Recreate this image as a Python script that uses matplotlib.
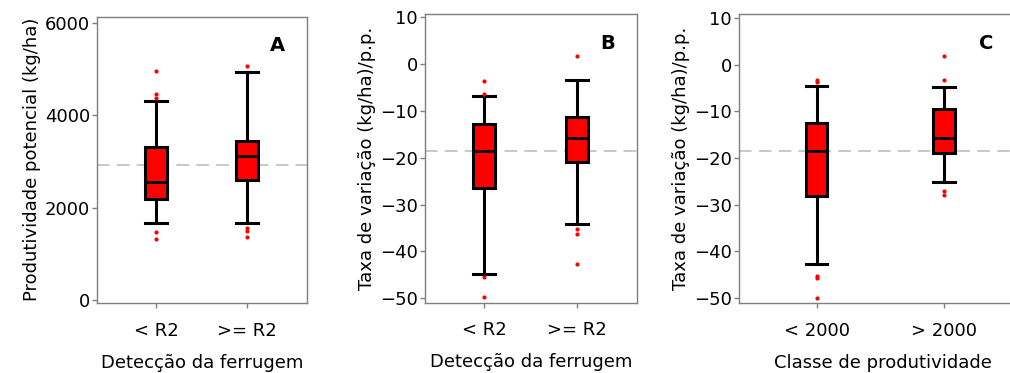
import numpy as np
import matplotlib
matplotlib.use("Agg")
import matplotlib.pyplot as plt

plt.rcParams['font.family'] = ['DejaVu Sans']

# panel A: produtividade potencial por deteccao da ferrugem
labels_a = ["< R2", ">= R2"]
med_a = [2560, 3117]
q1_a = [2180, 2597]
q3_a = [3305, 3434]
wlo_a = [1660, 1673]
whi_a = [4314, 4942]
fliers_a = [[4957, 4452, 4380, 1465, 1320], [5072, 1552, 1500, 1357]]
ref_a = 2915

# panel B: taxa de variacao por deteccao da ferrugem
labels_b = ["< R2", ">= R2"]
med_b = [-18.5, -15.8]
q1_b = [-26.5, -20.8]
q3_b = [-12.8, -11.2]
wlo_b = [-44.9, -34.2]
whi_b = [-6.8, -3.4]
fliers_b = [[-3.6, -6.4, -45.5, -49.8], [1.7, -35.3, -36.3, -42.7]]
ref_b = -18.5

# panel C: taxa de variacao por classe de produtividade
labels_c = ["< 2000", "> 2000"]
med_c = [-18.4, -15.8]
q1_c = [-28.2, -19.0]
q3_c = [-12.4, -9.5]
wlo_c = [-42.8, -25.1]
whi_c = [-4.5, -4.8]
fliers_c = [[-3.3, -3.7, -45.3, -45.8, -50.0], [1.9, -3.3, -27.0, -28.0]]
ref_c = -18.5

W, H = 1010, 373
fig = plt.figure(figsize=(W / 100, H / 100), dpi=100)

def px(l, r, t, b):
    return [l / W, 1 - b / H, (r - l) / W, (b - t) / H]

panels = [
    dict(rect=px(97, 307, 16.5, 303), xlim=(0.352, 2.66), ylim=(-65, 6134), yticks=[0, 2000, 4000, 6000],
         labels=labels_a, med=med_a, q1=q1_a, q3=q3_a, wlo=wlo_a, whi=whi_a, fl=fliers_a, ref=ref_a,
         ylabel="Produtividade potencial (kg/ha)", xlabel="Detecção da ferrugem", tag="A", width=0.24),
    dict(rect=px(425, 637, 14.3, 302.7), xlim=(0.358, 2.65), ylim=(-50.94, 10.64), yticks=range(-50, 11, 10),
         labels=labels_b, med=med_b, q1=q1_b, q3=q3_b, wlo=wlo_b, whi=whi_b, fl=fliers_b, ref=ref_b,
         ylabel="Taxa de variação (kg/ha)/p.p.", xlabel="Detecção da ferrugem", tag="B", width=0.24),
    # panel C runs past the right edge of the figure (cropped in the original)
    dict(rect=px(739, 1027, 14.3, 303.3), xlim=(0.391, 2.65), ylim=(-51.2, 10.86), yticks=range(-50, 11, 10),
         labels=labels_c, med=med_c, q1=q1_c, q3=q3_c, wlo=wlo_c, whi=whi_c, fl=fliers_c, ref=ref_c,
         ylabel="Taxa de variação (kg/ha)/p.p.", xlabel="Classe de produtividade", tag="C", width=0.17),
]

for p in panels:
    ax = fig.add_axes(p["rect"])
    stats = []
    for i in range(2):
        stats.append(dict(med=p["med"][i], q1=p["q1"][i], q3=p["q3"][i],
                          whislo=p["wlo"][i], whishi=p["whi"][i], fliers=p["fl"][i]))
    ax.axhline(p["ref"], color="#c4c4c4", lw=1.3, ls=(0, (7, 4)), zorder=1)
    ax.bxp(stats, positions=[1, 2], widths=p["width"], patch_artist=True,
           boxprops=dict(facecolor="#ff0000", edgecolor="black", linewidth=2.2),
           medianprops=dict(color="black", linewidth=2.0),
           whiskerprops=dict(color="black", linewidth=2.2),
           capprops=dict(color="black", linewidth=2.2),
           capwidths=p["width"],
           flierprops=dict(marker="o", markersize=3, markerfacecolor="#ff0000",
                           markeredgecolor="none"),
           zorder=3)
    ax.set_xlim(p["xlim"])
    ax.set_ylim(p["ylim"])
    ax.set_yticks(list(p["yticks"]))
    ax.set_xticks([1, 2])
    ax.set_xticklabels(p["labels"])
    for s in ax.spines.values():
        s.set_color("#7f7f7f")
        s.set_linewidth(1.0)
    ax.tick_params(colors="#7f7f7f", labelcolor="black", labelsize=13, length=3.5, width=1)
    ax.tick_params(axis="y", pad=1.5)
    ax.tick_params(axis="x", pad=10)
    ax.set_ylabel(p["ylabel"], fontsize=13, labelpad=3)
    ax.set_xlabel(p["xlabel"], fontsize=13, labelpad=10)
    ax.text(0.86, 0.9, p["tag"], transform=ax.transAxes, fontsize=14, fontweight="bold",
            ha="center", va="center")

fig.savefig("out.png", dpi=100)
